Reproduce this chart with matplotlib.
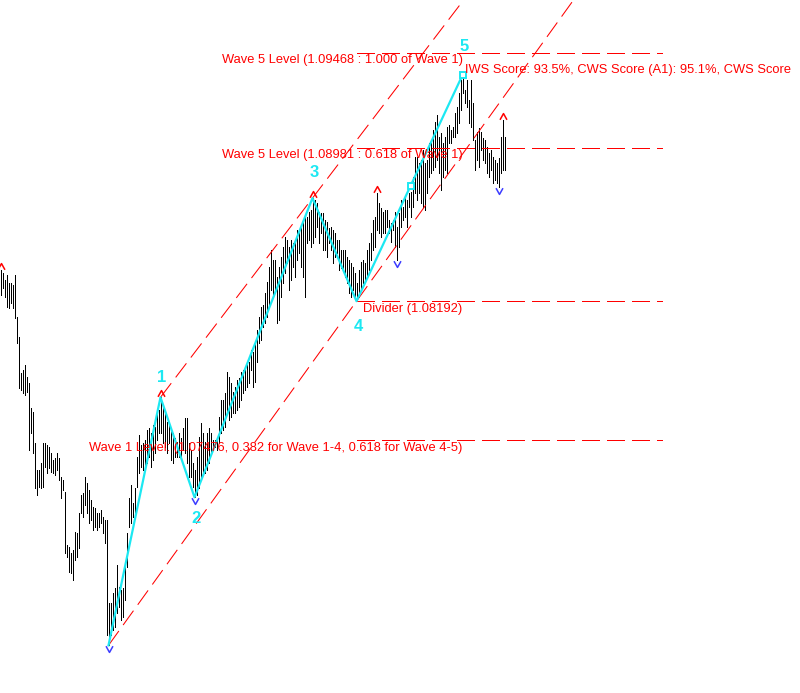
import matplotlib
matplotlib.use('Agg')
import matplotlib.pyplot as plt
from matplotlib.path import Path

# bar highs / lows, one per bar
highs = [
    1.08352, 1.08337, 1.08301, 1.08326, 1.08285, 1.08285, 1.08275, 1.08326, 1.08111, 1.08008,
    1.07823, 1.07838, 1.07864, 1.07802, 1.07771, 1.07643, 1.07622, 1.07463, 1.07324, 1.07324,
    1.07360, 1.07463, 1.07463, 1.07453, 1.07442, 1.07412, 1.07376, 1.07386, 1.07412, 1.07386,
    1.07288, 1.07273, 1.07211, 1.06939, 1.06928, 1.06898, 1.06913, 1.07005, 1.07000, 1.07103,
    1.07196, 1.07206, 1.07288, 1.07257, 1.07221, 1.07170, 1.07134, 1.07129, 1.07103, 1.07103,
    1.07119, 1.07083, 1.07067, 1.07067, 1.06641, 1.06641, 1.06692, 1.06718, 1.06836, 1.06723,
    1.06707, 1.06718, 1.06826, 1.07000, 1.07180, 1.07247, 1.07155, 1.07232, 1.07391, 1.07504,
    1.07453, 1.07463, 1.07478, 1.07530, 1.07540, 1.07514, 1.07555, 1.07545, 1.07617, 1.07633,
    1.07698, 1.07643, 1.07617, 1.07571, 1.07566, 1.07540, 1.07514, 1.07489, 1.07468, 1.07514,
    1.07489, 1.07540, 1.07591, 1.07591, 1.07463, 1.07427, 1.07360, 1.07324, 1.07391, 1.07494,
    1.07566, 1.07514, 1.07468, 1.07514, 1.07540, 1.07514, 1.07478, 1.07478, 1.07494, 1.07597,
    1.07684, 1.07684, 1.07720, 1.07828, 1.07802, 1.07771, 1.07725, 1.07751, 1.07787, 1.07797,
    1.07828, 1.07838, 1.07838, 1.07864, 1.07879, 1.07941, 1.07931, 1.07977, 1.08044, 1.08111,
    1.08162, 1.08172, 1.08234, 1.08290, 1.08368, 1.08455, 1.08404, 1.08404, 1.08316, 1.08368,
    1.08419, 1.08470, 1.08522, 1.08506, 1.08470, 1.08506, 1.08491, 1.08506, 1.08558, 1.08542,
    1.08573, 1.08599, 1.08625, 1.08625, 1.08650, 1.08661, 1.08722, 1.08712, 1.08697, 1.08650,
    1.08645, 1.08645, 1.08609, 1.08599, 1.08568, 1.08573, 1.08558, 1.08542, 1.08506, 1.08506,
    1.08455, 1.08455, 1.08455, 1.08419, 1.08404, 1.08388, 1.08368, 1.08337, 1.08285, 1.08352,
    1.08393, 1.08404, 1.08388, 1.08455, 1.08491, 1.08542, 1.08609, 1.08625, 1.08748, 1.08697,
    1.08671, 1.08650, 1.08661, 1.08661, 1.08609, 1.08594, 1.08609, 1.08650, 1.08573, 1.08645,
    1.08712, 1.08676, 1.08727, 1.08712, 1.08748, 1.08753, 1.08830, 1.08933, 1.08933, 1.08902,
    1.08918, 1.08969, 1.08902, 1.08918, 1.09005, 1.09005, 1.09072, 1.09113, 1.09149, 1.09036,
    1.09056, 1.09005, 1.09036, 1.09087, 1.09097, 1.09072, 1.09087, 1.09159, 1.09190, 1.09262,
    1.09329, 1.09354, 1.09277, 1.09329, 1.09226, 1.09329, 1.09211, 1.09020, 1.09062, 1.09082,
    1.09062, 1.09031, 1.09020, 1.08984, 1.08954, 1.08969, 1.08933, 1.08918, 1.08902, 1.08928,
    1.09036, 1.09123, 1.09036,
]
lows = [
    1.08224, 1.08260, 1.08213, 1.08162, 1.08157, 1.08183, 1.08157, 1.08105, 1.07977, 1.07746,
    1.07735, 1.07720, 1.07710, 1.07725, 1.07427, 1.07514, 1.07412, 1.07232, 1.07196, 1.07237,
    1.07232, 1.07237, 1.07340, 1.07309, 1.07334, 1.07314, 1.07309, 1.07298, 1.07324, 1.07273,
    1.07180, 1.07221, 1.06898, 1.06877, 1.06800, 1.06795, 1.06759, 1.06862, 1.06877, 1.06923,
    1.07103, 1.07083, 1.07144, 1.07103, 1.07052, 1.07067, 1.07016, 1.07031, 1.07016, 1.07031,
    1.07052, 1.07000, 1.06949, 1.06476, 1.06423, 1.06476, 1.06502, 1.06517, 1.06589, 1.06620,
    1.06553, 1.06569, 1.06656, 1.06826, 1.07031, 1.07052, 1.07083, 1.07103, 1.07237, 1.07309,
    1.07340, 1.07324, 1.07340, 1.07360, 1.07391, 1.07340, 1.07376, 1.07412, 1.07478, 1.07514,
    1.07514, 1.07463, 1.07442, 1.07412, 1.07463, 1.07376, 1.07360, 1.07391, 1.07391, 1.07391,
    1.07376, 1.07427, 1.07412, 1.07360, 1.07288, 1.07288, 1.07237, 1.07184, 1.07195, 1.07232,
    1.07283, 1.07309, 1.07309, 1.07324, 1.07360, 1.07412, 1.07427, 1.07442, 1.07427, 1.07463,
    1.07514, 1.07530, 1.07545, 1.07617, 1.07581, 1.07597, 1.07617, 1.07617, 1.07633, 1.07648,
    1.07684, 1.07720, 1.07735, 1.07751, 1.07771, 1.07838, 1.07751, 1.07777, 1.07879, 1.07977,
    1.07992, 1.08059, 1.08080, 1.08111, 1.08162, 1.08249, 1.08213, 1.08249, 1.08080, 1.08095,
    1.08213, 1.08285, 1.08337, 1.08388, 1.08249, 1.08301, 1.08368, 1.08316, 1.08404, 1.08440,
    1.08368, 1.08316, 1.08213, 1.08491, 1.08506, 1.08470, 1.08491, 1.08522, 1.08573, 1.08491,
    1.08542, 1.08455, 1.08455, 1.08419, 1.08491, 1.08455, 1.08388, 1.08419, 1.08440, 1.08352,
    1.08362, 1.08352, 1.08316, 1.08285, 1.08234, 1.08213, 1.08249, 1.08208, 1.08192, 1.08213,
    1.08249, 1.08285, 1.08301, 1.08316, 1.08352, 1.08404, 1.08455, 1.08470, 1.08558, 1.08542,
    1.08522, 1.08542, 1.08542, 1.08573, 1.08542, 1.08496, 1.08558, 1.08470, 1.08404, 1.08470,
    1.08573, 1.08609, 1.08625, 1.08573, 1.08676, 1.08625, 1.08676, 1.08748, 1.08712, 1.08748,
    1.08697, 1.08676, 1.08661, 1.08748, 1.08830, 1.08851, 1.08866, 1.08882, 1.08918, 1.08851,
    1.08763, 1.08830, 1.08866, 1.08851, 1.09005, 1.09005, 1.09036, 1.09036, 1.09056, 1.09108,
    1.09175, 1.09262, 1.09211, 1.09190, 1.09108, 1.09087, 1.09020, 1.08866, 1.08918, 1.08882,
    1.08969, 1.08918, 1.08902, 1.08851, 1.08830, 1.08866, 1.08799, 1.08815, 1.08799, 1.08779,
    1.08851, 1.08866, 1.08866,
]

# Elliott wave pivots (bar index, price)
wave_idx = [54, 80, 97, 156, 178, 231]
wave_price = [1.06423, 1.07698, 1.07184, 1.08722, 1.08192, 1.09354]
wave_names = ['', '1', '2', '3', '4', '5']
label_dy = [0, 14, -15, 18.5, -18, 20.5]   # points above/below the pivot

# small square markers on the wave 4-5 leg
sub_idx = [205, 231]
sub_price = [1.08784, 1.09354]

# fractal arrows
up_idx = [0, 80, 156, 188, 251]
down_idx = [54, 97, 198, 249]

level_price = [1.09468, 1.08981, 1.08192, 1.07476]
level_text = [
    'Wave 5 Level (1.09468 : 1.000 of Wave 1)',
    'Wave 5 Level (1.08981 : 0.618 of Wave 1)',
    'Divider (1.08192)',
    'Wave 1 Level: (1.07476, 0.382 for Wave 1-4, 0.618 for Wave 4-5)',
]
score_text = 'IWS Score: 93.5%, CWS Score (A1): 95.1%, CWS Score'
level_end = 330.5

RED = '#FF0000'
CYAN = '#1CE8F2'
FONT = 'Liberation Sans'

fig = plt.figure(figsize=(8, 6.93), dpi=100)
fig.patch.set_facecolor('white')
ax = fig.add_axes([0, 0, 1, 1])
ax.set_xlim(-0.25, 399.75)
ax.set_ylim(1.06178, 1.09740)
ax.axis('off')

# price bars, 1 px wide
bar_x = list(range(len(highs)))
ax.vlines(bar_x, lows, highs, color='black', lw=0.5, antialiased=False, zorder=2)

# channel lines: 0-4 and 1-3
def channel(a, b):
    i0, p0 = wave_idx[a], wave_price[a]
    i1, p1 = wave_idx[b], wave_price[b]
    slope = (p1 - p0) / (i1 - i0)
    xs = [i0, 400]
    ys = [p0 + slope * (x - i0) for x in xs]
    ax.plot(xs, ys, color=RED, lw=0.75, dashes=(17, 7), zorder=3)

channel(0, 4)
channel(1, 3)

# horizontal levels
for p in level_price:
    ax.plot([wave_idx[4], level_end], [p, p], color=RED, lw=0.72, dashes=(17, 7),
            antialiased=False, zorder=3)

for p, t in zip(level_price, level_text):
    ax.annotate(t, (wave_idx[5], p), xytext=(0, -1), textcoords='offset points',
                ha='right', va='top', color=RED, fontsize=9.3, family=FONT, zorder=6)

ax.annotate(score_text, (wave_idx[5], wave_price[5]), xytext=(2, -1), textcoords='offset points',
            ha='left', va='bottom', color=RED, fontsize=9.3, family=FONT, zorder=6)

# wave path
ax.plot(wave_idx, wave_price, color=CYAN, lw=1.6, zorder=4)
ax.plot(sub_idx, sub_price, ls='none', marker='s', ms=4.5, mfc='white', mec=CYAN, mew=1.4, zorder=5)

for i, p, name, dy in zip(wave_idx, wave_price, wave_names, label_dy):
    if not name:
        continue
    ax.annotate(name, (i, p), xytext=(1, dy), textcoords='offset points',
                ha='center', va='center', color=CYAN, fontsize=12,
                fontweight='bold', family=FONT, zorder=6)

# arrows above highs / below lows
up_mark = Path([(-1, 0.2), (0, 2), (1, 0.2)], [Path.MOVETO, Path.LINETO, Path.LINETO])
down_mark = Path([(-1, -0.2), (0, -2), (1, -0.2)], [Path.MOVETO, Path.LINETO, Path.LINETO])
ax.plot(up_idx, [highs[i] for i in up_idx], ls='none', marker=up_mark, ms=10,
        mfc='none', mec=RED, mew=1.1, zorder=5)
ax.plot(down_idx, [lows[i] for i in down_idx], ls='none', marker=down_mark, ms=10,
        mfc='none', mec='#3C3CFF', mew=1.1, zorder=5)

fig.savefig('out.png', dpi=100, facecolor='white')
